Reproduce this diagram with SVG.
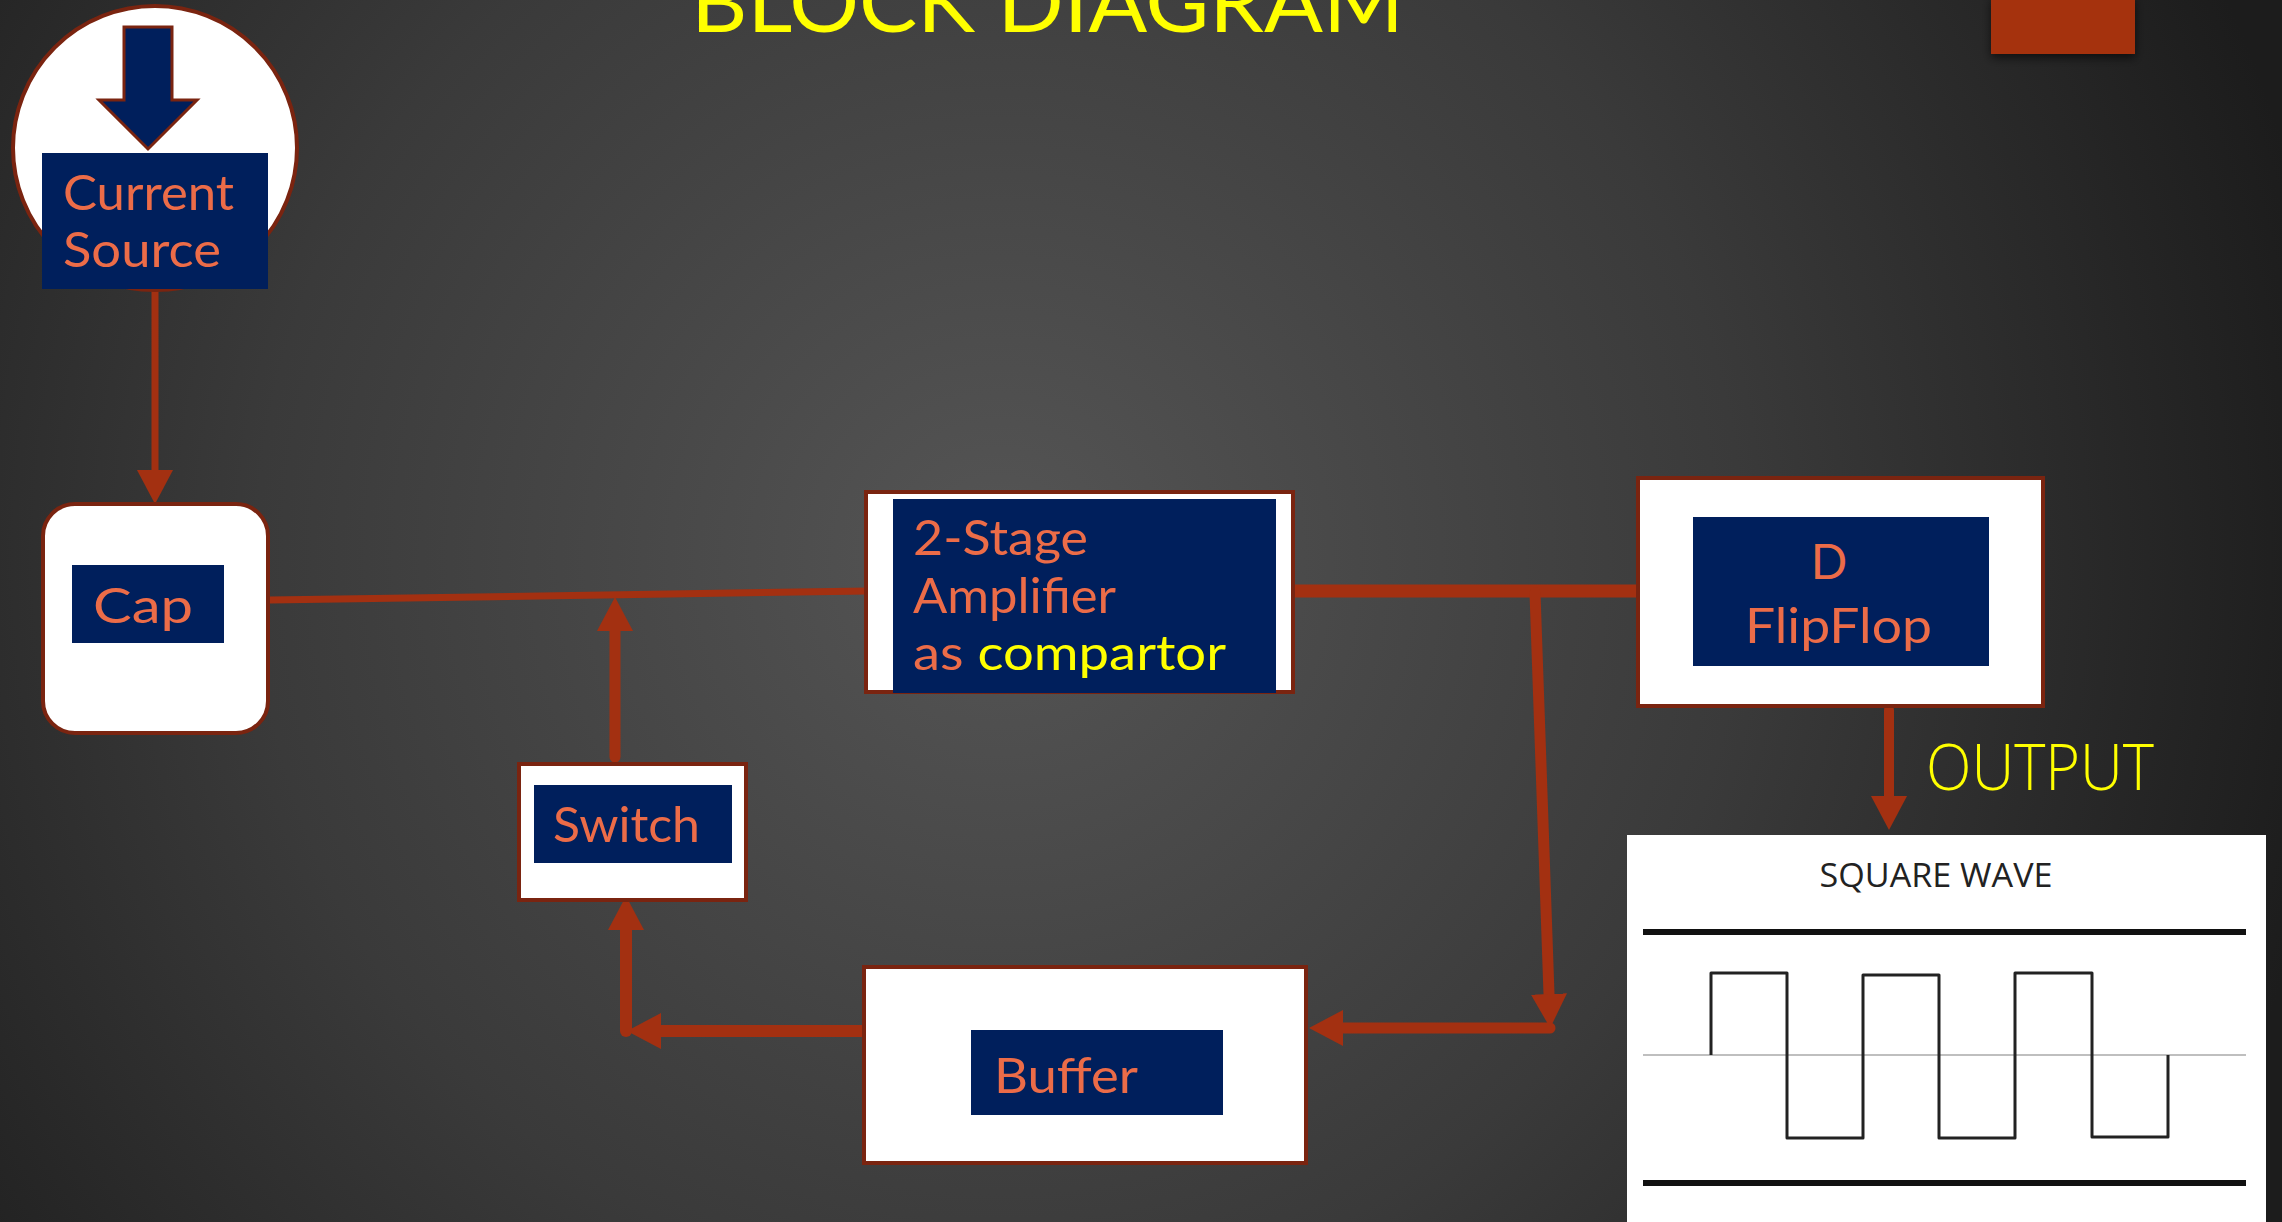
<svg xmlns="http://www.w3.org/2000/svg" width="2282" height="1222" viewBox="0 0 2282 1222">
  <defs>
    <radialGradient id="bg" cx="1000" cy="560" r="1350" gradientUnits="userSpaceOnUse">
      <stop offset="0" stop-color="#555555"/>
      <stop offset="0.55" stop-color="#3a3a3a"/>
      <stop offset="1" stop-color="#1c1c1c"/>
    </radialGradient>
    <filter id="shadow" x="-20%" y="-20%" width="140%" height="160%">
      <feGaussianBlur in="SourceAlpha" stdDeviation="5"/>
      <feOffset dx="0" dy="4" result="b"/>
      <feFlood flood-color="#000" flood-opacity="0.6"/>
      <feComposite in2="b" operator="in"/>
      <feMerge><feMergeNode/><feMergeNode in="SourceGraphic"/></feMerge>
    </filter>
    <marker id="head" viewBox="0 0 34 36" markerWidth="34" markerHeight="36" refX="0" refY="18" orient="auto" markerUnits="userSpaceOnUse">
      <path d="M0,0 L34,18 L0,36 z" fill="#a33011"/>
    </marker>
    <style>
      .box { fill: #ffffff; stroke: #7a2410; stroke-width: 4; }
      .navy { fill: #001f5c; }
      .lbl { font-family: Lato, "Liberation Sans", sans-serif; font-size: 48px; fill: #ec6c48; }
      .yel { fill: #ffff00; }
      .wire { fill: none; stroke: #a33011; stroke-linecap: round; stroke-linejoin: round; }
      .arrow { marker-end: url(#head); }
    </style>
  </defs>

  <!-- backdrop -->
  <rect x="0" y="0" width="2282" height="1222" fill="url(#bg)"/>

  <!-- title, running off the top edge -->
  <text x="691" y="32" font-family="Lato, 'Liberation Sans', sans-serif" font-size="84" fill="#ffff00" textLength="713" lengthAdjust="spacingAndGlyphs">BLOCK DIAGRAM</text>

  <!-- corner accent block -->
  <rect x="1991" y="-4" width="144" height="58" fill="#a53110" filter="url(#shadow)"/>

  <!-- connectors -->
  <g id="connectors">
    <line class="wire arrow" x1="155" y1="289" x2="155" y2="470" stroke-width="7"/>
    <line class="wire" x1="270" y1="600" x2="868" y2="591" stroke-width="7"/>
    <line class="wire arrow" x1="615" y1="757" x2="615" y2="631" stroke-width="11"/>
    <line class="wire" x1="1290" y1="591" x2="1643" y2="591" stroke-width="13"/>
    <line class="wire arrow" x1="1535" y1="593" x2="1549" y2="994" stroke-width="11"/>
    <line class="wire arrow" x1="1550" y1="1028" x2="1343" y2="1028" stroke-width="11"/>
    <line class="wire arrow" x1="866" y1="1031" x2="661" y2="1031" stroke-width="12"/>
    <line class="wire arrow" x1="626" y1="1031" x2="626" y2="930" stroke-width="12"/>
    <line class="wire arrow" x1="1889" y1="710" x2="1889" y2="796" stroke-width="10"/>
  </g>

  <!-- current source -->
  <g id="current-source">
    <circle cx="155" cy="148" r="142" fill="#ffffff" stroke="#7a2410" stroke-width="4"/>
    <path d="M124,27 H172 V100 H197 L148,149 L99,100 H124 Z" fill="#001f5c" stroke="#7a2410" stroke-width="3"/>
    <rect class="navy" x="42" y="153" width="226" height="136"/>
    <text class="lbl" x="63" y="210" textLength="171" lengthAdjust="spacingAndGlyphs">Current</text>
    <text class="lbl" x="63" y="267" textLength="158" lengthAdjust="spacingAndGlyphs">Source</text>
  </g>

  <!-- capacitor -->
  <g id="cap">
    <rect class="box" x="43" y="504" width="225" height="229" rx="32"/>
    <rect class="navy" x="72" y="565" width="152" height="78"/>
    <text class="lbl" x="93" y="623" textLength="100" lengthAdjust="spacingAndGlyphs">Cap</text>
  </g>

  <!-- comparator -->
  <g id="amplifier">
    <rect class="box" x="866" y="492" width="427" height="200"/>
    <rect class="navy" x="893" y="499" width="383" height="194"/>
    <text class="lbl" x="913" y="555" textLength="175" lengthAdjust="spacingAndGlyphs">2-Stage</text>
    <text class="lbl" x="913" y="613" textLength="203" lengthAdjust="spacingAndGlyphs">Amplifier</text>
    <text class="lbl" x="913" y="670" textLength="313" lengthAdjust="spacingAndGlyphs">as <tspan class="yel">compartor</tspan></text>
  </g>

  <!-- flip-flop -->
  <g id="flipflop">
    <rect class="box" x="1638" y="478" width="405" height="228"/>
    <rect class="navy" x="1693" y="517" width="296" height="149"/>
    <text class="lbl" x="1829" y="579" text-anchor="middle" font-size="50">D</text>
    <text class="lbl" x="1745" y="643" textLength="187" lengthAdjust="spacingAndGlyphs" font-size="50">FlipFlop</text>
  </g>

  <!-- switch -->
  <g id="switch">
    <rect class="box" x="519" y="764" width="227" height="136"/>
    <rect class="navy" x="534" y="785" width="198" height="78"/>
    <text class="lbl" x="553" y="842" textLength="147" lengthAdjust="spacingAndGlyphs">Switch</text>
  </g>

  <!-- buffer -->
  <g id="buffer">
    <rect class="box" x="864" y="967" width="442" height="196"/>
    <rect class="navy" x="971" y="1030" width="252" height="85"/>
    <text class="lbl" x="994" y="1093" textLength="144" lengthAdjust="spacingAndGlyphs" font-size="52">Buffer</text>
  </g>

  <!-- output label -->
  <text x="1926" y="790" font-family="'Open Sans', Lato, 'Liberation Sans', sans-serif" font-size="64" font-weight="300" fill="#ffff00" textLength="228" lengthAdjust="spacingAndGlyphs">OUTPUT</text>

  <!-- square wave plot -->
  <g id="square-wave">
    <rect x="1627" y="835" width="639" height="387" fill="#ffffff"/>
    <text x="1936" y="887" text-anchor="middle" font-family="'Open Sans', 'Liberation Sans', sans-serif" font-size="33" fill="#222222" textLength="233" lengthAdjust="spacingAndGlyphs">SQUARE WAVE</text>
    <line x1="1643" y1="932" x2="2246" y2="932" stroke="#111111" stroke-width="6"/>
    <line x1="1643" y1="1183" x2="2246" y2="1183" stroke="#111111" stroke-width="6"/>
    <line x1="1643" y1="1055" x2="2246" y2="1055" stroke="#aaaaaa" stroke-width="1.5"/>
    <path d="M1711,1055 V973 H1787 V1138 H1863 V975 H1939 V1138 H2015 V973 H2092 V1137 H2168 V1055" fill="none" stroke="#222222" stroke-width="3" stroke-linejoin="round"/>
  </g>
</svg>
